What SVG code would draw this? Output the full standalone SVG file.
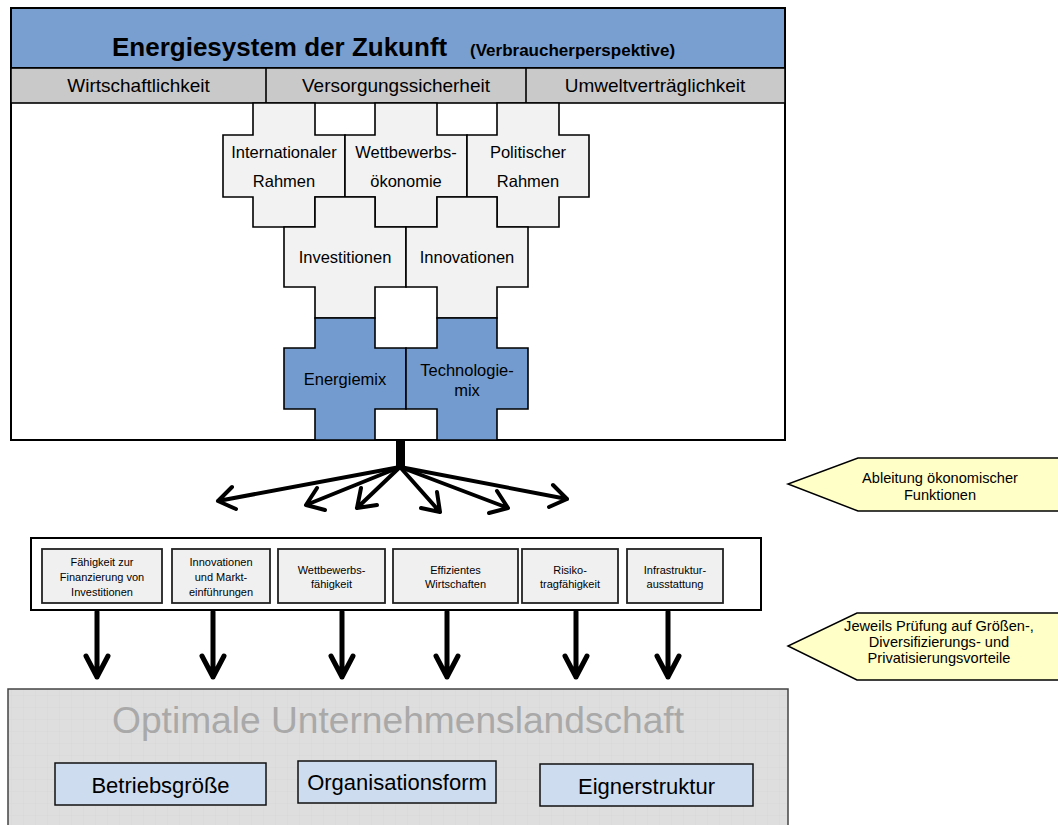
<svg xmlns="http://www.w3.org/2000/svg" width="1058" height="825" viewBox="0 0 1058 825">
<style>
text{font-family:"Liberation Sans",Arial,sans-serif;fill:#000}
.t26{font-size:26px;font-weight:bold}
.t17{font-size:17px;font-weight:bold}
.row{font-size:19px;text-anchor:middle}
.pz{font-size:16.5px;text-anchor:middle}
.sm{font-size:11px;text-anchor:middle}
.cl{font-size:14.6px;text-anchor:middle}
.bx{font-size:22px;text-anchor:middle}
.grey{fill:#f2f2f2;stroke:#000;stroke-width:1.6}
.blue{fill:#739bcf;stroke:#000;stroke-width:1.6}
.fbox{fill:#f0f0f0;stroke:#222;stroke-width:1.8}
.bbox{fill:#cddcee;stroke:#111;stroke-width:1.5}
.call{fill:#ffffc8;stroke:#000;stroke-width:1.5}
.fan{fill:none;stroke:#000;stroke-width:4;stroke-linecap:round;stroke-linejoin:round}
.down{fill:none;stroke:#000;stroke-width:5;stroke-linecap:round;stroke-linejoin:round}
</style>
<defs>
<pattern id="grid" width="12" height="12" patternUnits="userSpaceOnUse">
<rect width="12" height="12" fill="#dedede"/>
<path d="M12,0 V12 M0,12 H12" fill="none" stroke="#d3d3d3" stroke-width="0.6"/>
</pattern>
</defs>
<rect width="1058" height="825" fill="#fff"/>

<g id="energiesystem">
<rect x="11" y="8" width="774" height="432" fill="#fff" stroke="#000" stroke-width="2"/>
<rect x="11" y="8" width="774" height="60" fill="#799fd1" stroke="#000" stroke-width="2"/>
<text x="112" y="56"><tspan class="t26">Energiesystem der Zukunft</tspan><tspan class="t17" x="470">(Verbraucherperspektive)</tspan></text>
</g>
<g id="kriterien">
<rect x="11" y="68" width="774" height="35" fill="#c9c9c9" stroke="#000" stroke-width="1.6"/>
<line x1="266" y1="68" x2="266" y2="103" stroke="#000" stroke-width="1.6"/>
<line x1="526" y1="68" x2="526" y2="103" stroke="#000" stroke-width="1.6"/>
<text class="row" x="138.5" y="92">Wirtschaftlichkeit</text>
<text class="row" x="396" y="92">Versorgungssicherheit</text>
<text class="row" x="655" y="92">Umweltverträglichkeit</text>
</g>

<g id="internationaler-rahmen">
<path class="grey" d="M253,103 H315 V135 H345 V197 H315 V227 H253 V197 H223 V135 H253 Z"/>
<text class="pz" x="284" y="158">Internationaler</text>
<text class="pz" x="284" y="187">Rahmen</text>
</g>
<g id="wettbewerbsoekonomie">
<path class="grey" d="M375,103 H437 V135 H467 V197 H437 V227 H375 V197 H345 V135 H375 Z"/>
<text class="pz" x="406" y="158">Wettbewerbs-</text>
<text class="pz" x="406" y="187">ökonomie</text>
</g>
<g id="politischer-rahmen">
<path class="grey" d="M497,103 H559 V135 H589 V197 H559 V227 H497 V197 H467 V135 H497 Z"/>
<text class="pz" x="528" y="158">Politischer</text>
<text class="pz" x="528" y="187">Rahmen</text>
</g>
<g id="investitionen">
<path class="grey" d="M315,197 H375 V227 H406 V287 H375 V318 H315 V287 H284 V227 H315 Z"/>
<text class="pz" x="345" y="263">Investitionen</text>
</g>
<g id="innovationen">
<path class="grey" d="M437,197 H497 V227 H528 V287 H497 V318 H437 V287 H406 V227 H437 Z"/>
<text class="pz" x="467" y="263">Innovationen</text>
</g>
<g id="energiemix">
<path class="blue" d="M315,318 H375 V348 H406 V409 H375 V440 H315 V409 H284 V348 H315 Z"/>
<text class="pz" x="345" y="385">Energiemix</text>
</g>
<g id="technologiemix">
<path class="blue" d="M437,318 H497 V348 H528 V409 H497 V440 H437 V409 H406 V348 H437 Z"/>
<text class="pz" x="467" y="376">Technologie-</text>
<text class="pz" x="467" y="396">mix</text>
</g>

<g id="connectors">
<rect x="396" y="440" width="9" height="29" fill="#000"/>
<path class="fan" d="M400,467 L218,501 M232,487 L218,501 L236,509"/>
<path class="fan" d="M400,467 L306,505 M317,488 L306,505 L325,510"/>
<path class="fan" d="M400,467 L357,508 M361,488 L357,508 L377,505"/>
<path class="fan" d="M400,467 L440,512 M437,492 L440,512 L421,508"/>
<path class="fan" d="M400,467 L508,508 M497,491 L508,508 L489,513"/>
<path class="fan" d="M400,467 L567,499 M553,485 L567,499 L549,507"/>
<path class="down" d="M97,612 V677 M86,656 L97,677 L108,656"/>
<path class="down" d="M213,612 V677 M202,656 L213,677 L224,656"/>
<path class="down" d="M342,612 V677 M331,656 L342,677 L353,656"/>
<path class="down" d="M447,612 V677 M436,656 L447,677 L458,656"/>
<path class="down" d="M576,612 V677 M565,656 L576,677 L587,656"/>
<path class="down" d="M668,612 V677 M657,656 L668,677 L679,656"/>
</g>

<g id="funktionen">
<rect x="31" y="538" width="730" height="72" fill="#fff" stroke="#000" stroke-width="2"/>
</g>
<g id="finanzierung">
<rect class="fbox" x="42" y="549" width="120" height="54"/>
<text class="sm" x="102" y="566">Fähigkeit zur</text>
<text class="sm" x="102" y="581">Finanzierung von</text>
<text class="sm" x="102" y="596">Investitionen</text>
</g>
<g id="markteinfuehrungen">
<rect class="fbox" x="172" y="549" width="98" height="54"/>
<text class="sm" x="221" y="566">Innovationen</text>
<text class="sm" x="221" y="581">und Markt-</text>
<text class="sm" x="221" y="596">einführungen</text>
</g>
<g id="wettbewerbsfaehigkeit">
<rect class="fbox" x="278" y="549" width="107" height="54"/>
<text class="sm" x="331.5" y="574">Wettbewerbs-</text>
<text class="sm" x="331.5" y="588">fähigkeit</text>
</g>
<g id="effizientes-wirtschaften">
<rect class="fbox" x="393" y="549" width="125" height="54"/>
<text class="sm" x="455.5" y="574">Effizientes</text>
<text class="sm" x="455.5" y="588">Wirtschaften</text>
</g>
<g id="risikotragfaehigkeit">
<rect class="fbox" x="522" y="549" width="96" height="54"/>
<text class="sm" x="570" y="574">Risiko-</text>
<text class="sm" x="570" y="588">tragfähigkeit</text>
</g>
<g id="infrastruktur">
<rect class="fbox" x="627" y="549" width="96" height="54"/>
<text class="sm" x="675" y="574">Infrastruktur-</text>
<text class="sm" x="675" y="588">ausstattung</text>
</g>

<g id="callout-ableitung">
<path class="call" d="M1062,458 H858 L788,484 L858,511 H1062"/>
<text class="cl" x="940" y="483">Ableitung ökonomischer</text>
<text class="cl" x="940" y="500">Funktionen</text>
</g>
<g id="callout-pruefung">
<path class="call" d="M1062,613 H857 L788,646 L857,680 H1062"/>
<text class="cl" x="939" y="631">Jeweils Prüfung auf Größen-,</text>
<text class="cl" x="939" y="647">Diversifizierungs- und</text>
<text class="cl" x="939" y="663">Privatisierungsvorteile</text>
</g>

<g id="unternehmenslandschaft">
<rect x="8" y="689" width="780" height="140" fill="url(#grid)" stroke="#444" stroke-width="1.5"/>
<text x="398" y="733" font-size="36" fill="#a9a9a9" style="fill:#a9a9a9" text-anchor="middle" textLength="572" lengthAdjust="spacingAndGlyphs">Optimale Unternehmenslandschaft</text>
</g>
<g id="betriebsgroesse">
<rect class="bbox" x="55" y="763" width="211" height="42"/>
<text class="bx" x="160.5" y="793">Betriebsgröße</text>
</g>
<g id="organisationsform">
<rect class="bbox" x="298" y="761" width="198" height="42"/>
<text class="bx" x="397" y="790">Organisationsform</text>
</g>
<g id="eignerstruktur">
<rect class="bbox" x="540" y="764" width="213" height="42"/>
<text class="bx" x="646.5" y="794">Eignerstruktur</text>
</g>
</svg>
